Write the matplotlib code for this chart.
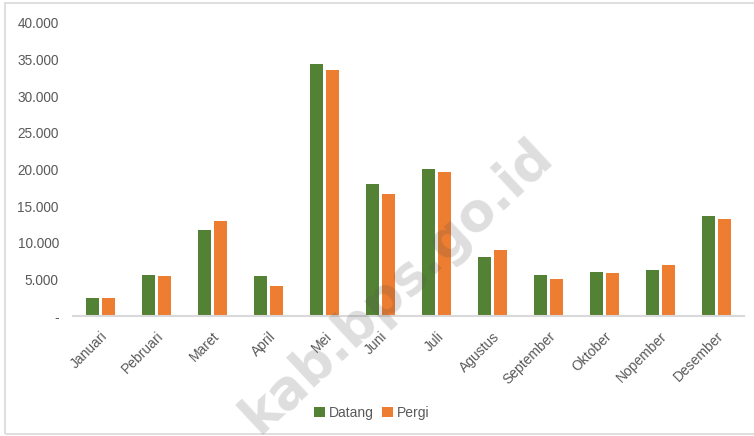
import matplotlib
matplotlib.use("Agg")
import matplotlib.pyplot as plt
import matplotlib.transforms as mtransforms
import numpy as np
from matplotlib.patches import Rectangle
from matplotlib.ticker import FuncFormatter, MultipleLocator

bulan = ["Januari", "Pebruari", "Maret", "April", "Mei", "Juni", "Juli",
         "Agustus", "September", "Oktober", "Nopember", "Desember"]
datang = [2450, 5600, 11800, 5400, 34300, 18000, 20100, 8100, 5550, 5950, 6250, 13600]
pergi = [2450, 5500, 12950, 4150, 33600, 16700, 19600, 8950, 5100, 5850, 6900, 13300]

GREEN = "#548235"
ORANGE = "#ED7D31"
TXT = "#595959"

plt.rcParams["font.family"] = ["Liberation Sans", "DejaVu Sans"]

fig = plt.figure(figsize=(7.54, 4.36), dpi=100)
ax = fig.add_axes([0.0964, 0.275, 0.8906, 0.673])

x = np.arange(len(bulan))
w = 0.235
off = 0.145
ax.bar(x - off, datang, w, color=GREEN, label="Datang", zorder=2)
ax.bar(x + off, pergi, w, color=ORANGE, label="Pergi", zorder=2)

ax.set_xlim(-0.5, len(bulan) - 0.5)
ax.set_ylim(0, 40000)
ax.yaxis.set_major_locator(MultipleLocator(5000))


def fmt(v, pos):
    if v == 0:
        return "-"
    return "{:,.0f}".format(v).replace(",", ".")


ax.yaxis.set_major_formatter(FuncFormatter(fmt))
ax.tick_params(axis="y", length=0, pad=10, labelsize=9.8, labelcolor=TXT)
ax.tick_params(axis="x", length=0, pad=13, labelsize=10, labelcolor=TXT)
ax.set_xticks(x)
ax.set_xticklabels(bulan, rotation=45, ha="right", va="center", rotation_mode="anchor")
shift = mtransforms.ScaledTranslation(5 / 100, 0, fig.dpi_scale_trans)
for lab in ax.get_xticklabels():
    lab.set_transform(lab.get_transform() + shift)

for s in ["top", "right", "left"]:
    ax.spines[s].set_visible(False)
ax.spines["bottom"].set_color("#d9d9d9")
ax.spines["bottom"].set_linewidth(1.5)

leg = fig.legend(loc="center", bbox_to_anchor=(0.493, 0.053), ncol=2, frameon=False,
                 fontsize=10, handlelength=0.8, handleheight=0.8, handletextpad=0.3,
                 columnspacing=0.6)
for t in leg.get_texts():
    t.set_color(TXT)

# watermark
fig.text(0.527, 0.345, "kab.bps.go.id", fontsize=38, fontweight="bold",
         color="#505050", alpha=0.19, rotation=43, ha="center", va="center",
         family="DejaVu Sans", zorder=10)

# chart border
fig.patches.append(Rectangle((5 / 754, 2 / 436), 1.0, 1 - 5 / 436,
                             transform=fig.transFigure, fill=False,
                             edgecolor="#d9d9d9", linewidth=1.2))

fig.savefig("out.png", dpi=100)
